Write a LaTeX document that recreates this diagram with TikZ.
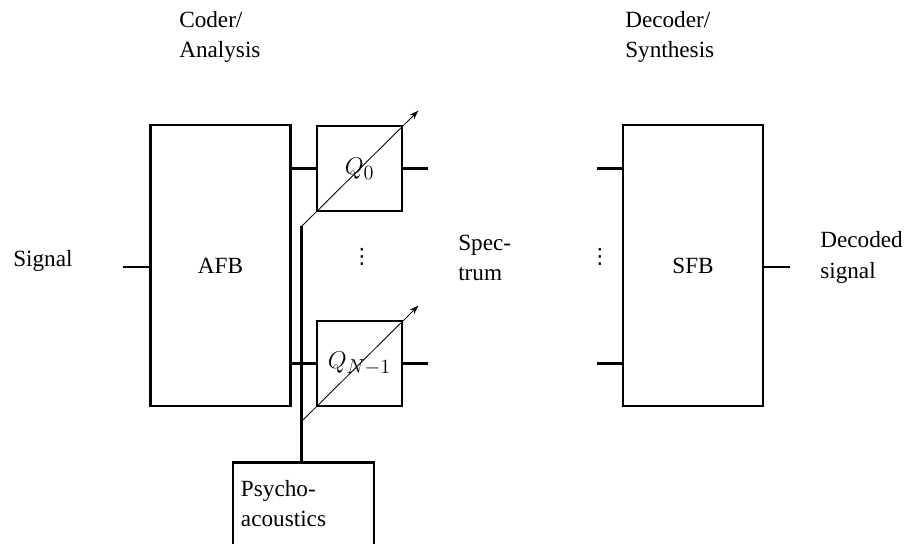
\documentclass[tikz,border=0pt]{standalone}
\usepackage{fontspec}
\setmainfont{Liberation Serif}
\newfontfamily\dotsfont{DejaVu Sans}
\usepackage{tikz}
\usetikzlibrary{arrows.meta, positioning, calc}

\newcommand{\tallvdots}{{\dotsfont\fontsize{15pt}{15pt}\selectfont ⋮}}

\tikzset{
  bank/.style={draw, line width=1.9pt, minimum width=3.5cm, minimum height=7.025cm, inner sep=0pt},
  quant/.style={draw, line width=1.9pt, minimum width=2.125cm, minimum height=2.125cm, inner sep=0pt,
    font=\fontsize{19pt}{23pt}\selectfont},
  wire/.style={line width=1.9pt},
  adapt/.style={line width=0.6pt, -{Stealth[length=6.5pt, width=4.5pt]}},
  txt/.style={anchor=base west, align=left, inner sep=0pt}
}

\begin{document}
\begin{tikzpicture}[x=0.025cm, y=-0.025cm, font=\fontsize{16.5pt}{21.5pt}\selectfont]
  \useasboundingbox (0,0) rectangle (913,544);

  % analysis side
  \node[bank] (afb) at (220.5,265.5) {AFB};
  \node[quant] (q0) at (359.5,168.5) {$Q_0$};
  \node[quant] (qn) at (359.5,363.5) {$Q_{N-1}$};
  \node (dotsq) at (362,257) {\tallvdots};
  \node[draw, line width=1.9pt, anchor=north, text width=3.125cm, align=left,
        inner xsep=0.2cm, inner ysep=0.45cm] (psy) at (303.5,461) {Psycho-\\acoustics};

  % synthesis side
  \node[bank] (sfb) at (693,265.5) {SFB};
  \node (dotss) at (600,257) {\tallvdots};

  % labels (base = last line)
  \node[txt] (sig) at (13,267) {Signal};
  \node[txt] (coder) at (179,58) {Coder/\\Analysis};
  \node[txt] (decoder) at (625,58) {Decoder/\\Synthesis};
  \node[txt] (spec) at (458,281) {Spec-\\trum};
  \node[txt] (decsig) at (820,278) {Decoded\\signal};

  % free ends
  \coordinate (sigin) at (123,267);
  \coordinate (q0out) at (428,168.5);
  \coordinate (qnout) at (428,363.5);
  \coordinate (sfbin0) at (597,168.5);
  \coordinate (sfbinn) at (597,363.5);
  \coordinate (sfbout) at (790,267);
  \coordinate (q0tail) at ($(q0.south west)+(-14,14)$);
  \coordinate (q0head) at ($(q0.north east)+(15,-14)$);
  \coordinate (qntail) at ($(qn.south west)+(-14,14)$);
  \coordinate (qnhead) at ($(qn.north east)+(15,-14)$);

  % wires
  \draw[wire] (sigin) -- (sigin -| afb.west);
  \draw[wire] (afb.east |- q0.west) -- (q0.west);
  \draw[wire] (afb.east |- qn.west) -- (qn.west);
  \draw[wire] (q0.east) -- (q0out);
  \draw[wire] (qn.east) -- (qnout);
  \draw[wire] (sfbin0) -- (sfbin0 -| sfb.west);
  \draw[wire] (sfbinn) -- (sfbinn -| sfb.west);
  \draw[wire] (sfb.east |- sfbout) -- (sfbout);
  \draw[wire] (q0tail) -- (q0tail |- psy.north);

  % step size control
  \draw[adapt] (q0tail) -- (q0head);
  \draw[adapt] (qntail) -- (qnhead);
\end{tikzpicture}
\end{document}
